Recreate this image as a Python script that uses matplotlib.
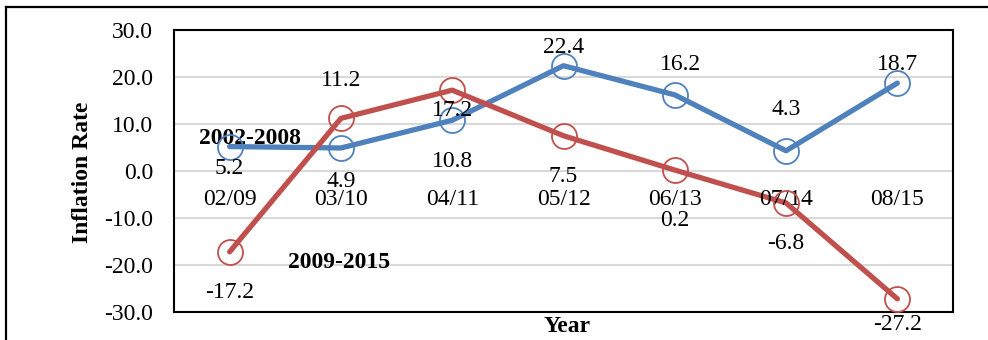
import matplotlib.pyplot as plt
from matplotlib.lines import Line2D

plt.rcParams['font.family'] = ['Liberation Serif', 'DejaVu Serif']

categories = ["02/09", "03/10", "04/11", "05/12", "06/13", "07/14", "08/15"]
rate_2002_2008 = [5.2, 4.9, 10.8, 22.4, 16.2, 4.3, 18.7]
rate_2009_2015 = [-17.2, 11.2, 17.2, 7.5, 0.2, -6.8, -27.2]

# label offsets in pixels (dx, dy), hand placed like the original
blue_off = [(0, -22), (0, -34), (0, -41), (0, 18), (6, 30), (0, 41), (0, 19)]
red_off = [(0, -41), (0, 38), (0, -20), (0, -41), (0, -50), (0, -41), (0, -26)]

blue = "#4F81BD"
red = "#C0504D"
fs = 17

fig = plt.figure(figsize=(9.88, 3.40), dpi=100)
ax = fig.add_axes([174/988, 28/340, (953-174)/988, (312-30)/340])

x = list(range(len(categories)))
ax.plot(x, rate_2002_2008, color=blue, lw=3.8, solid_capstyle='round', zorder=3)
ax.plot(x, rate_2009_2015, color=red, lw=3.8, solid_capstyle='round', zorder=3)
ax.plot(x, rate_2002_2008, 'o', ms=18, mfc='none', mec=blue, mew=1.3, zorder=4)
ax.plot(x, rate_2009_2015, 'o', ms=18, mfc='none', mec=red, mew=1.3, zorder=4)

ax.set_xlim(-0.5, len(categories) - 0.5)
ax.set_ylim(-30, 30)
ax.set_yticks(range(-30, 31, 10))
ax.set_yticklabels([f"{v:.1f}" for v in range(-30, 31, 10)], fontsize=fs)
ax.tick_params(axis='y', length=0, pad=15)
ax.set_xticks([])
ax.grid(axis='y', color='#D9D9D9', lw=1.5, zorder=0)
ax.set_axisbelow(True)
for s in ax.spines.values():
    s.set_linewidth(1.5)
    s.set_color('black')

# category labels sit just under the zero line
for i, c in enumerate(categories):
    ax.annotate(c, (i, 0), xytext=(0, -29), textcoords='offset pixels',
                ha='center', va='center', fontsize=fs)

for i, v in enumerate(rate_2002_2008):
    dx, dy = blue_off[i]
    ax.annotate(f"{v:.1f}", (i, v), xytext=(dx, dy), textcoords='offset pixels',
                ha='center', va='center', fontsize=fs, zorder=5)
for i, v in enumerate(rate_2009_2015):
    dx, dy = red_off[i]
    ax.annotate(f"{v:.1f}", (i, v), xytext=(dx, dy), textcoords='offset pixels',
                ha='center', va='center', fontsize=fs, zorder=5)

ax.text(0.18, 7.0, "2002-2008", ha='center', va='center', fontsize=fs, fontweight='bold')
ax.text(0.98, -19.5, "2009-2015", ha='center', va='center', fontsize=fs, fontweight='bold')

fig.text(82/988, 1 - 172/340, "Inflation Rate", rotation=90, ha='center', va='center',
         fontsize=fs, fontweight='bold')
fig.text(567/988, 1 - 326/340, "Year", ha='center', va='center',
         fontsize=fs, fontweight='bold')

# outer frame
fig.add_artist(Line2D([6/988, 6/988], [0, 1 - 7/340], color='black', lw=1.6))
fig.add_artist(Line2D([6/988, 1], [1 - 7/340, 1 - 7/340], color='black', lw=1.6))

fig.savefig("out.png", dpi=100)
